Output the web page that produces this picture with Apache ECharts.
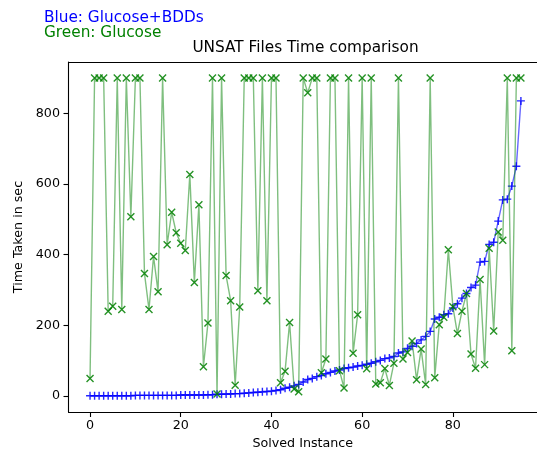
<!DOCTYPE html>
<html>
<head>
<meta charset="utf-8">
<script src="https://cdn.jsdelivr.net/npm/echarts@6/dist/echarts.min.js"></script>
<style>
html,body{margin:0;padding:0;background:#fff;}
#chart{width:537px;height:455px;}
</style>
</head>
<body>
<div id="chart"></div>
<script>
// Blue: Glucose+BDDs (time in sec per solved instance, sorted)
const glucoseBdds = [
  1,1,1,1,1,1,1,1,1,1,
  2,2,2,2,2,2,2,2,2,2,
  3,3,3,3,3,3,4,4,5,5,
  6,6,7,7,8,9,10,11,12,13,
  14,16,18,22,25,29,33,40,47,50,
  55,58,63,67,71,74,78,80,82,85,
  87,90,93,97,101,106,108,112,122,125,
  135,141,149,159,169,183,218,223,230,233,
  249,261,277,290,307,314,379,381,429,435,
  495,555,557,594,650,835
];
// Green: Glucose
const glucose = [
  50,900,900,900,240,254,900,245,900,507,
  900,900,347,245,395,295,900,428,520,462,
  432,412,627,321,541,83,207,900,6,900,
  341,270,31,252,900,900,900,298,900,270,
  900,900,38,70,208,20,12,900,858,900,
  900,66,105,900,900,72,23,900,121,230,
  900,77,900,34,38,78,30,93,900,105,
  123,156,46,133,33,900,52,202,223,414,
  253,177,240,290,119,79,330,89,418,184,
  464,441,900,128,900,900
];
const xTicks = [0, 20, 40, 60, 80];
const yTicks = [0, 200, 400, 600, 800];
const titleText = 'UNSAT Files Time comparison';
const xLabel = 'Solved Instance';
const yLabel = 'Time Taken in sec';
const noteBlue = 'Blue: Glucose+BDDs';
const noteGreen = 'Green: Glucose';

const toPairs = arr => arr.map((v, i) => [i, v]);
const FONT = '"DejaVu Sans", "Liberation Sans", sans-serif';
const PLUS = 'path://M5,0L5,10M0,5L10,5';
const CROSS = 'path://M0,0L10,10M10,0L0,10';

// axes frame extends past the right edge of the picture (cropped figure)
const X_MIN = -4.75, X_MAX = 98.55;
const Y_MIN = -45, Y_MAX = 945;

const chart = echarts.init(document.getElementById('chart'), null, {renderer: 'canvas'});
chart.setOption({
  animation: false,
  backgroundColor: '#ffffff',
  grid: {left: 68.5, top: 62, right: 0, height: 353.5, show: false},
  graphic: [
    {type: 'text', left: 44, top: 11, silent: true,
     style: {text: noteBlue, font: '15.3px ' + FONT, fill: '#0000ff'}},
    {type: 'text', left: 44, top: 26, silent: true,
     style: {text: noteGreen, font: '15.3px ' + FONT, fill: '#008000'}},
    {type: 'text', x: 305.5, y: 41, silent: true,
     style: {text: titleText, font: '15.3px ' + FONT, fill: '#000', align: 'center', verticalAlign: 'top'}}
  ],
  xAxis: [{
    type: 'value', min: X_MIN, max: X_MAX, position: 'bottom',
    name: xLabel, nameLocation: 'middle', nameGap: 25,
    nameTextStyle: {fontFamily: FONT, fontSize: 12.7, color: '#000'},
    axisLine: {show: true, onZero: false, lineStyle: {color: '#000', width: 1.1}},
    axisTick: {show: true, inside: false, length: 5, customValues: xTicks, lineStyle: {color: '#000', width: 1.1}},
    axisLabel: {show: true, margin: 7, customValues: xTicks, fontFamily: FONT, fontSize: 12.7, color: '#000'},
    splitLine: {show: false}
  }, {
    type: 'value', min: X_MIN, max: X_MAX, position: 'top',
    axisLine: {show: true, onZero: false, lineStyle: {color: '#000', width: 1.1}},
    axisTick: {show: false}, axisLabel: {show: false}, splitLine: {show: false}
  }],
  yAxis: {
    type: 'value', min: Y_MIN, max: Y_MAX,
    name: yLabel, nameLocation: 'middle', nameGap: 42, nameRotate: 90,
    nameTextStyle: {fontFamily: FONT, fontSize: 12.7, color: '#000'},
    axisLine: {show: true, onZero: false, lineStyle: {color: '#000', width: 1.1}},
    axisTick: {show: true, inside: false, length: 5, customValues: yTicks, lineStyle: {color: '#000', width: 1.1}},
    axisLabel: {show: true, margin: 8.5, customValues: yTicks, fontFamily: FONT, fontSize: 12.7, color: '#000'},
    splitLine: {show: false}
  },
  series: [
    {
      name: noteBlue, type: 'line', data: toPairs(glucoseBdds), xAxisIndex: 0,
      symbol: PLUS, symbolSize: 8, showAllSymbol: true, z: 2,
      lineStyle: {color: 'rgba(0,0,255,0.6)', width: 1.4},
      itemStyle: {color: 'none', borderColor: 'rgba(0,0,255,0.85)', borderWidth: 1.4},
      emphasis: {disabled: true}
    },
    {
      name: noteGreen, type: 'line', data: toPairs(glucose), xAxisIndex: 0,
      symbol: CROSS, symbolSize: 7, showAllSymbol: true, z: 3,
      lineStyle: {color: 'rgba(0,128,0,0.5)', width: 1.4},
      itemStyle: {color: 'none', borderColor: 'rgba(0,128,0,0.85)', borderWidth: 1.4},
      emphasis: {disabled: true}
    }
  ]
});
</script>
</body>
</html>
